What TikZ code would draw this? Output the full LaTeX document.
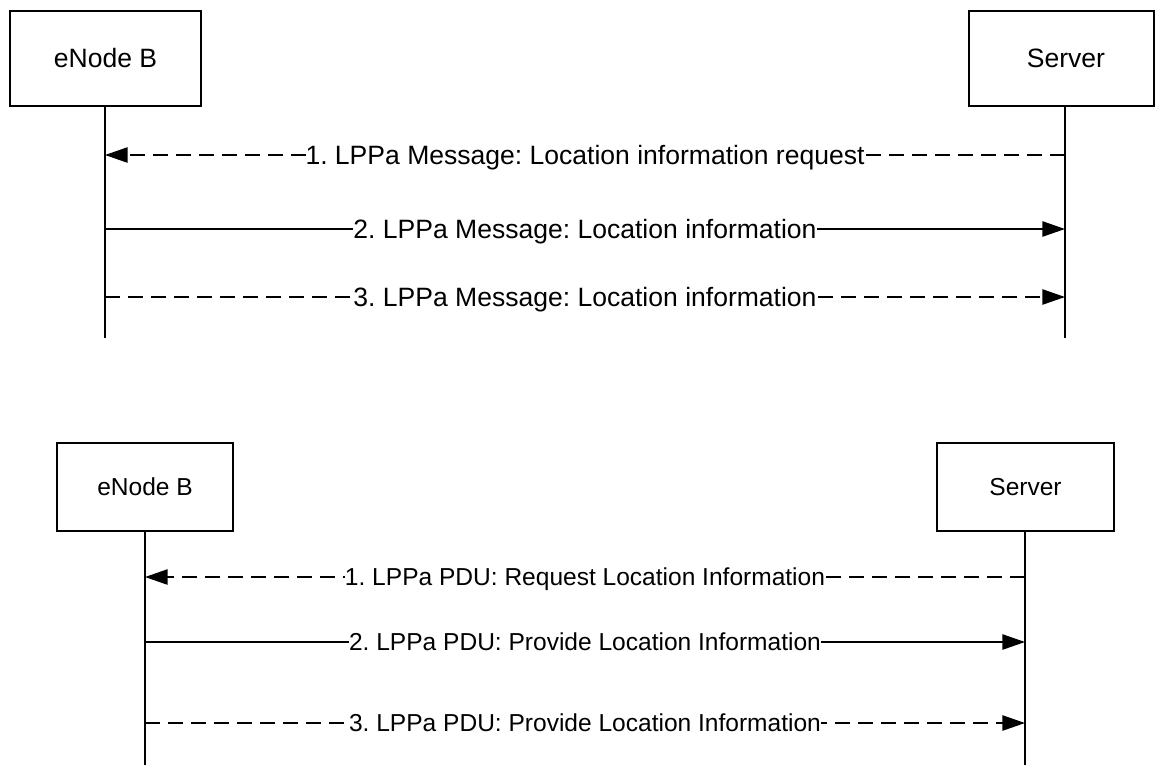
\documentclass[tikz,border=0pt]{standalone}
\usepackage{fontspec}
\setmainfont{Liberation Sans}
\usetikzlibrary{arrows.meta}
\begin{document}
\frenchspacing
\begin{tikzpicture}[x=0.75pt,y=-0.75pt,
  box/.style={draw,line width=1.1pt,inner sep=0pt},
  topfont/.style={font=\fontsize{19.9pt}{24pt}\selectfont},
  botfont/.style={font=\fontsize{18.4pt}{22pt}\selectfont},
  life/.style={line width=1.1pt},
  msg/.style={line width=1.1pt,-{Triangle[length=17pt,width=11.5pt]}},
  dsh/.style={dash pattern=on 11.25pt off 6pt},
  lbltop/.style={fill=white,inner sep=0pt,text depth=0pt,text height=14.25pt,topfont},
  lblbot/.style={fill=white,inner sep=0pt,text depth=0pt,text height=13.2pt,botfont}]
\useasboundingbox (0,0) rectangle (1155,765);
% ---------- top diagram ----------
\node[box,topfont,minimum width=143.25pt,minimum height=71.25pt] (enbA) at (105.5,58.5) {eNode B};
\node[box,topfont,minimum width=138.75pt,minimum height=71.25pt] (srvA) at (1061.5,58.5) {\hspace*{6.75pt}Server};
\coordinate (enbAend) at (105,338);
\coordinate (srvAend) at (1065,338);
\draw[life] (enbA.south -| enbAend) -- (enbAend);
\draw[life] (srvA.south -| srvAend) -- (srvAend);
\coordinate (a1e) at (105,155);  \coordinate (a1s) at (1065,155);
\coordinate (a2s) at (105,229);  \coordinate (a2e) at (1065,229);
\coordinate (a3s) at (105,297);  \coordinate (a3e) at (1065,297);
\draw[msg,dsh] (a1s) -- node[lbltop]{1. LPPa Message: Location information request} (a1e);
\draw[msg] (a2s) -- node[lbltop]{2. LPPa Message: Location information} (a2e);
\draw[msg,dsh] (a3s) -- node[lbltop]{3. LPPa Message: Location information} (a3e);
% ---------- bottom diagram ----------
\node[box,botfont,minimum width=132pt,minimum height=66pt] (enbB) at (145,487) {eNode B};
\node[box,botfont,minimum width=132.75pt,minimum height=66pt] (srvB) at (1025.5,487) {Server};
\coordinate (enbBend) at (145,765);
\coordinate (srvBend) at (1025,765);
\draw[life] (enbB.south -| enbBend) -- (enbBend);
\draw[life] (srvB.south -| srvBend) -- (srvBend);
\coordinate (b1e) at (145,577);  \coordinate (b1s) at (1025,577);
\coordinate (b2s) at (145,642);  \coordinate (b2e) at (1025,642);
\coordinate (b3s) at (145,723);  \coordinate (b3e) at (1025,723);
\draw[msg,dsh] (b1s) -- node[lblbot]{1. LPPa PDU: Request Location Information} (b1e);
\draw[msg] (b2s) -- node[lblbot]{2. LPPa PDU: Provide Location Information} (b2e);
\draw[msg,dsh] (b3s) -- node[lblbot]{3. LPPa PDU: Provide Location Information} (b3e);
\end{tikzpicture}
\end{document}
